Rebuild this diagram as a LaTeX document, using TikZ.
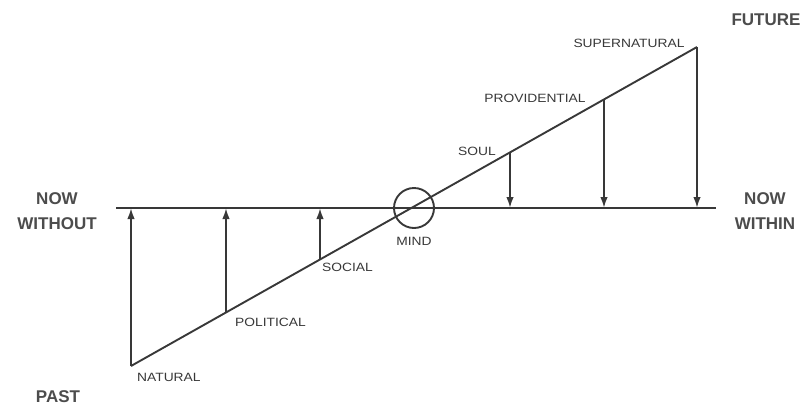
\documentclass[tikz,border=0pt]{standalone}
\usepackage{fontspec}
\setmainfont{Liberation Sans}
\newfontfamily\widefont{Liberation Sans}[FakeStretch=1.15]
\usetikzlibrary{arrows.meta}
\begin{document}
\begin{tikzpicture}[x=1pt,y=-1pt,
  line/.style={line width=1.9pt, draw=black!78},
  arr/.style={line, -{Latex[length=11pt,width=7.5pt]}},
  big/.style={font=\bfseries\fontsize{17}{25}\selectfont, text=black!70, align=center, inner sep=0pt},
  small/.style={font=\widefont\fontsize{12}{13}\selectfont, text=black!78, inner sep=0pt}]
\useasboundingbox (0,0) rectangle (804,408);
% key points
\coordinate (hl) at (116,208);
\coordinate (hr) at (716,208);
\coordinate (d0) at (131,366);
\coordinate (d6) at (697,47);
\coordinate (d1) at (226,312.5);
\coordinate (d2) at (320,259.5);
\coordinate (d4) at (510,152.4);
\coordinate (d5) at (604,99.4);
\coordinate (h0) at (131,208);
\coordinate (h1) at (226,208);
\coordinate (h2) at (320,208);
\coordinate (h4) at (510,208);
\coordinate (h5) at (604,208);
\coordinate (h6) at (697,208);
% lines
\draw[line] (hl) -- (hr);
\draw[line] (d0) -- (d6);
\node[circle, draw=black!78, line width=1.9pt, minimum size=40pt, inner sep=0pt] (mind) at (414,208) {};
% arrows
\draw[arr] (d0) -- (h0);
\draw[arr] (d1) -- (h1);
\draw[arr] (d2) -- (h2);
\draw[arr] (d4) -- (h4);
\draw[arr] (d5) -- (h5);
\draw[arr] (d6) -- (h6);
% labels
\node[big] (nowwithout) at (57,211) {NOW\\WITHOUT};
\node[big] (nowwithin) at (765,211) {NOW\\WITHIN};
\node[big] (past) at (58,397) {PAST};
\node[big] (future) at (766,20) {FUTURE};
\node[small, anchor=west] (natural) at (137,377) {NATURAL};
\node[small, anchor=west] (political) at (235,322) {POLITICAL};
\node[small, anchor=west] (social) at (322,267) {SOCIAL};
\node[small] (mindl) at (414,241) {MIND};
\node[small] (soul) at (477,151) {SOUL};
\node[small] (provid) at (535,98) {PROVIDENTIAL};
\node[small] (supern) at (629,43) {SUPERNATURAL};
\end{tikzpicture}
\end{document}
